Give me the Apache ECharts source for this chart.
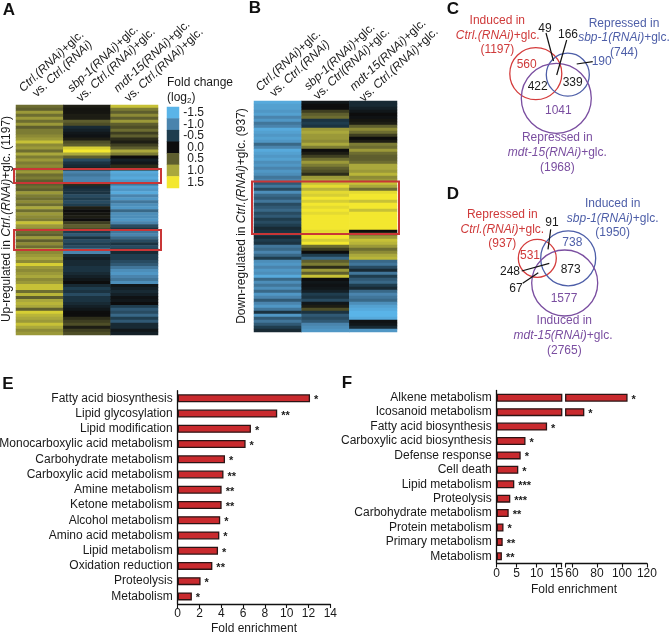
<!DOCTYPE html>
<html><head><meta charset="utf-8">
<style>html,body{margin:0;padding:0;background:#fff}#c{width:670px;height:633px}</style>
<script src="https://cdn.jsdelivr.net/npm/echarts@6/dist/echarts.min.js"></script>
</head><body><div id="c"></div>
<script>
// ---------- heatmap data (log2 fold change, read row by row from top) ----------
const heatColumns = ['c1','c2','c3'];
const heatA1 = [.6,.5,.9,.6,.9,.6,.9,.5,.7,.7, .8,.9,1.2,.8,.9,.6,1.0,.7,.9,.7, .8,.7,.9,.6,.7,.5,.5,.6,.5,.9, .7,.6,.8,.6,1.0,.6,.9,.8,.7,1.2, .9,.8,.6,.5,.9,.5,.8,.6,1.0,.8, .9,1.0,.8,1.3,.9,.8,.9,1.0,.8,.9, 1.2,1.2,.6,1.1,.5,1.0,1.1,1.0,.5,1.3, 1.1,1.0,.9,1.2,1.0,.8,.9];
const heatA2 = [.1,.05,.05,.1,.1,.5,.4,-.3,-.2,-.1, -.05,.1,.4,.5,1.3,1.5,1.0,.5,-.6,-.4, -.3,.1,-1.0,-.9,-1.0,-1.0,.2,-.3,-.4,-.4, -.6,-.5,-.6,-.5,.1,.0,.05,.1,.0,.3, .5,.4,-.5,-.7,-.4,-.6,-.5,-.6,-.8,-1.0, -.3,-.2,-.3,-.3,-.4,-.4,-.3,-.2,-.1,0, -.3,-.5,-.4,-.6,-.4,-.4,-.3,-.2,-.1,0, .0,.2,.3,.4,.1,.3,.4];
const heatA3 = [1.2,.7,.5,.8,.5,.9,.5,.4,.6,.3, .5,.2,.1,.3,.5,1.0,.7,.0,-.2,-.1, .2,.2,-1.4,-1.3,-1.4,-1.2,-.9,-1.3,-1.2,-1.4, -1.0,-1.2,-.9,-1.1,-1.2,-.8,-1.1,-1.1,-1.2,-1.0, -.6,-.4,-.9,-1.0,-.8,-.6,-.4,-.6,-.4,-.3, -.5,-.5,-.6,-.7,-.9,-1.1,-1.2,-1.0,-.9,-1.1, -.1,-.2,-.3,-.2,-.05,-.1,0,-.5,-.7,-.6, -.8,-.5,-.7,-.3,-.3,-.1,-.2];
const heatB1 = [-1.4,-1.3,-1.3,-1.2,-1.3,-1.0,-1.2,-.9,-1.0,-1.4, -1.3,-1.2,-1.3,-1.2,-.8,-1.0,-1.4,-1.3,-1.2,-1.3, -1.1,-1.2,-1.0,-1.2,-1.1,-.9,-1.0,-.7,-.9,-.6, -1.1,-.8,-.7,-.9,-.6,-.7,-.8,-.6,-.7,-.5, -.6,-.5,-.3,-.4,-.5,-.3,-.5,-.4,-.9,-.8, -1.0,-.8,-.5,-1.1,-1.2,-1.0,-1.2,-1.1,-1.4,-.8, -1.1,-.9,-1.1,-.8,-1.2,-1.0,-.7,-1.0,-1.2,-.9, -.4,-1.2,-.7,-.9,-.7,-.5,-.3];
const heatB2 = [-.1,0,0,.3,.5,.6,-.4,-.5,-.4,.9, 1.0,.9,.9,.8,1.0,.7,0,.1,.3,.6, .9,.7,.5,.4,.2,.9,1.0,1.2,1.4,1.1, 1.4,1.3,1.5,1.3,1.5,1.4,1.5,1.4,1.5,1.5, 1.5,1.5,1.5,1.4,1.5,1.5,1.3,1.5,.6,.3, .0,-.5,-.8,.5,.7,.2,.9,.5,1.2,0, -.1,-.05,-.1,-.2,-.5,-.4,-.6,-.1,.1,.4, -.4,-.7,-.6,-.7,-1.0,-1.1,-1.2];
const heatB3 = [-.3,-.3,-.2,-.1,0,-.05,.05,.1,.5,.8, .6,.3,0,.1,.7,.6,.9,.6,.5,.5, .6,1.0,1.0,.9,1.1,.8,.9,1.2,1.0,.6, 1.4,1.5,1.5,1.2,1.5,1.5,1.2,1.5,1.5,1.5, 1.5,1.5,1.5,0,.7,.9,1.2,1.1,.9,.6, .8,1.0,1.1,-.8,-.9,-.6,-.3,-.9,-.5,-.7, -.8,-.5,-.3,-.8,-1.0,-.9,-.8,-1.1,-1.3,-1.4, -1.5,-1.5,-1.4,-.05,-.1,-.3,-1.2];
const scaleLabels = ['-1.5','-1.0','-0.5','0.0','0.5','1.0','1.5'];
const scaleColors = ['#5ab4e8','#4a84ad','#1f3d4e','#0d0d0d','#5e5e2e','#aaa83c','#f3e72f'];

// ---------- bar data ----------
const catsE = ['Fatty acid biosynthesis','Lipid glycosylation','Lipid modification','Monocarboxylic acid metabolism','Carbohydrate metabolism','Carboxylic acid metabolism','Amine metabolism','Ketone metabolism','Alcohol metabolism','Amino acid metabolism','Lipid metabolism','Oxidation reduction','Proteolysis','Metabolism'];
const valsE = [12.14,9.13,6.72,6.23,4.34,4.2,4.03,4.03,3.9,3.82,3.7,3.18,2.1,1.3];
const starsE = ['*','**','*','*','*','**','**','**','*','*','*','**','*','*'];
const catsF = ['Alkene metabolism','Icosanoid metabolism','Fatty acid biosynthesis','Carboxylic acid biosynthesis','Defense response','Cell death','Lipid metabolism','Proteolysis','Carbohydrate metabolism','Protein metabolism','Primary metabolism','Metabolism'];
const valsF = [104.5,69.9,12.6,7.2,6,5.4,4.4,3.4,3,1.7,1.5,1.3];
const starsF = ['*','*','*','*','*','*','***','***','**','*','**','**'];

// ---------- Venn data: [centre x, centre y, diameter] ----------
const vennCRed = [535.8,73.7,52], vennCBlue = [567.8,74.7,43], vennCPurple = [556.3,98.3,70];
const vennDRed = [537.3,258.3,38], vennDBlue = [568.2,258.3,55], vennDPurple = [564.7,283,66];
const leaderLines = [
  [[546,33],[553.5,61]], [[566.7,40],[556.7,75]], [[576.7,64],[592.7,61.7]],
  [[550.7,229.3],[548,249.3]], [[521.7,271],[549.3,263.3]], [[522.7,283.3],[538.3,272.7]]
];

const FONT = '"Liberation Sans", Arial, sans-serif';
const RED='#cf3a3a', BLUE='#4d5ea8', PURPLE='#7a4ea0', BLACK='#1a1a1a';
const rows = heatA1.map((_,i)=>String(i));
const toCells = cols => cols.flatMap((col,c)=>col.map((v,r)=>[c,r,v]));

function txt(s,x,y,o={}){
  const fs=o.fs||12;
  return {type:'text',x,y,rotation:(o.rot||0)*Math.PI/180,z:50,silent:true,style:{
    text:s,fontFamily:FONT,fontSize:fs,fontWeight:o.bold?'bold':'normal',fill:o.color||BLACK,
    align:o.align||'center',verticalAlign:'middle',
    rich:{i:{fontStyle:'italic',fontFamily:FONT,fontSize:fs,fill:o.color||BLACK},
          sub:{fontFamily:FONT,fontSize:8,fill:o.color||BLACK,padding:[6,0,0,0]}}
  }};
}
function box(x,y,w,h){return {type:'rect',z:40,silent:true,shape:{x,y,width:w,height:h},style:{fill:'none',stroke:'#c93636',lineWidth:2}};}

const graphics=[
  // panel letters
  txt('A',9,10,{fs:17,bold:true,color:'#111'}),txt('B',255,8,{fs:17,bold:true,color:'#111'}),
  txt('C',453,9,{fs:17,bold:true,color:'#111'}),txt('D',453,194,{fs:17,bold:true,color:'#111'}),
  txt('E',8,384,{fs:17,bold:true,color:'#111'}),txt('F',347,383,{fs:17,bold:true,color:'#111'}),
  // heatmap column headers
  txt('{i|Ctrl.(RNAi)}+glc.',51.5,61.5,{rot:43}),txt('vs. {i|Ctrl.(RNAi)}',62.5,69,{rot:43}),
  txt('{i|sbp-1(RNAi)}+glc.',103,58.7,{rot:43}),txt('vs. {i|Ctrl.(RNAi)}+glc.',116,65,{rot:43}),
  txt('{i|mdt-15(RNAi)}+glc.',152,56.5,{rot:43}),txt('vs. {i|Ctrl.(RNAi)}+glc.',164,65,{rot:43}),
  txt('{i|Ctrl.(RNAi)}+glc.',288.3,60.8,{rot:43}),txt('vs. {i|Ctrl.(RNAi)}',300,68.7,{rot:43}),
  txt('{i|sbp-1(RNAi)}+glc.',339.7,56.7,{rot:43}),txt('vs. {i|Ctrl(RNAi)}+glc.',351.7,63.8,{rot:43}),
  txt('{i|mdt-15(RNAi)}+glc.',388,55,{rot:43}),txt('vs. {i|Ctrl.(RNAi)}+glc.',399,65,{rot:43}),
  // side titles
  txt('Up-regulated in {i|Ctrl.(RNAi)}+glc. (1197)',7,219,{rot:90}),
  txt('Down-regulated in {i|Ctrl.(RNAi)}+glc. (937)',242,216,{rot:90}),
  // colour scale title
  txt('Fold change',167,83,{align:'left'}),txt('(log{sub|2})',167,98,{align:'left'}),
  // red boxes
  box(14,169,147,14),box(14,230,147,20),box(252,181.5,147,52.5),
  // Venn C
  txt('Induced in',497.3,21,{color:RED}),txt('{i|Ctrl.(RNAi)}+glc.',497.7,36,{color:RED}),txt('(1197)',497.3,50,{color:RED}),
  txt('Repressed in',624,24,{color:BLUE}),txt('{i|sbp-1(RNAi)}+glc.',624,38,{color:BLUE}),txt('(744)',624,53,{color:BLUE}),
  txt('49',545,29),txt('166',568,35),txt('190',601.7,62,{color:BLUE}),
  txt('560',526.7,65,{color:RED}),txt('422',537.7,86.7),txt('339',572.7,82.7),txt('1041',558.3,111,{color:PURPLE}),
  txt('Repressed in',557.3,138,{color:PURPLE}),txt('{i|mdt-15(RNAi)}+glc.',557.3,153,{color:PURPLE}),txt('(1968)',557.3,168,{color:PURPLE}),
  // Venn D
  txt('Repressed in',502.3,215,{color:RED}),txt('{i|Ctrl.(RNAi)}+glc.',502.3,230,{color:RED}),txt('(937)',502.3,244,{color:RED}),
  txt('Induced in',612.7,204,{color:BLUE}),txt('{i|sbp-1(RNAi)}+glc.',612.7,218.7,{color:BLUE}),txt('(1950)',612.7,233,{color:BLUE}),
  txt('91',552,222.3),txt('738',572.3,242.7,{color:BLUE}),txt('531',530,256,{color:RED}),txt('873',570.7,270),
  txt('248',510,271.7),txt('67',516,289),txt('1577',564,298.3,{color:PURPLE}),
  txt('Induced in',564.3,321,{color:PURPLE}),txt('{i|mdt-15(RNAi)}+glc.',563,335.7,{color:PURPLE}),txt('(2765)',564.3,350.3,{color:PURPLE}),
  // F axis title
  txt('Fold enrichment',574,590)
];

const hiddenCat=(gridIndex,data,extra={})=>Object.assign({type:'category',gridIndex,data,show:false,inverse:false},extra);
const barLabelStyle={show:true,position:'right',distance:4,fontFamily:FONT,fontSize:11,fontWeight:'bold',color:BLACK,offset:[0,2]};
const barStyle={color:'#c92a2e',borderColor:'#2b1414',borderWidth:1.3};
const axisLine={show:true,lineStyle:{color:'#111',width:1.3}};
const catLabel={fontFamily:FONT,fontSize:12,color:BLACK,margin:5,interval:0};
const numLabel={fontFamily:FONT,fontSize:12,color:BLACK,margin:4};
const tick={show:true,length:4,lineStyle:{color:'#111',width:1.1}};
const vennCircle=(name,c,color)=>({type:'scatter',name,xAxisIndex:6,yAxisIndex:6,data:[c],
  symbolSize:v=>v[2],silent:true,z:5,itemStyle:{color:'rgba(0,0,0,0)',borderColor:color,borderWidth:1.3,opacity:1}});

const option={
  backgroundColor:'#fff',animation:false,
  grid:[
    {left:16,top:105,width:142,height:230,outerBoundsMode:'none'},
    {left:254,top:101,width:143,height:231,outerBoundsMode:'none'},
    {left:167,top:107,width:12,height:81,outerBoundsMode:'none'},
    {left:177.7,top:390.7,width:152.6,height:213.3,outerBoundsMode:'none'},
    {left:496.7,top:390.5,width:65,height:173,outerBoundsMode:'none'},
    {left:565.7,top:390.5,width:81.25,height:173,outerBoundsMode:'none'},
    {left:0,top:0,width:670,height:633,outerBoundsMode:'none'}
  ],
  xAxis:[
    hiddenCat(0,heatColumns),hiddenCat(1,heatColumns),hiddenCat(2,['scale']),
    {type:'value',gridIndex:3,min:0,max:14,interval:2,splitLine:{show:false},axisLine,axisTick:tick,axisLabel:numLabel,
     name:'Fold enrichment',nameLocation:'middle',nameGap:19,nameTextStyle:{fontFamily:FONT,fontSize:12,color:BLACK}},
    {type:'value',gridIndex:4,min:0,max:16.25,splitLine:{show:false},axisLine,
     axisTick:Object.assign({},tick,{customValues:[0,5,10,15,16.25]}),
     axisLabel:Object.assign({},numLabel,{customValues:[0,5,10,15]})},
    {type:'value',gridIndex:5,min:55,max:120,splitLine:{show:false},axisLine,
     axisTick:Object.assign({},tick,{customValues:[55,60,80,100,120]}),
     axisLabel:Object.assign({},numLabel,{customValues:[60,80,100,120]})},
    {type:'value',gridIndex:6,min:0,max:670,show:false}
  ],
  yAxis:[
    hiddenCat(0,rows,{inverse:true}),hiddenCat(1,rows,{inverse:true}),
    {type:'category',gridIndex:2,data:scaleLabels,inverse:true,position:'right',axisLine:{show:false},axisTick:{show:false},
     axisLabel:{fontFamily:FONT,fontSize:12,color:BLACK,align:'right',margin:25,interval:0}},
    {type:'category',gridIndex:3,data:catsE,inverse:true,axisLine,axisTick:{show:false},axisLabel:catLabel},
    {type:'category',gridIndex:4,data:catsF,inverse:true,axisLine,axisTick:{show:false},axisLabel:catLabel},
    hiddenCat(5,catsF,{inverse:true}),
    {type:'value',gridIndex:6,min:0,max:633,inverse:true,show:false}
  ],
  visualMap:{type:'continuous',show:false,seriesIndex:[0,1,2],min:-1.5,max:1.5,dimension:2,inRange:{color:scaleColors}},
  graphic:graphics,
  series:[
    {type:'heatmap',xAxisIndex:0,yAxisIndex:0,data:toCells([heatA1,heatA2,heatA3]),silent:true},
    {type:'heatmap',xAxisIndex:1,yAxisIndex:1,data:toCells([heatB1,heatB2,heatB3]),silent:true},
    {type:'heatmap',xAxisIndex:2,yAxisIndex:2,data:scaleLabels.map((l,i)=>[0,i,Number(l)]),silent:true},
    {type:'bar',xAxisIndex:3,yAxisIndex:3,data:valsE,barWidth:8,itemStyle:barStyle,
     label:Object.assign({},barLabelStyle,{formatter:p=>starsE[p.dataIndex]})},
    {type:'bar',xAxisIndex:4,yAxisIndex:4,data:valsF,barWidth:8,clip:true,itemStyle:barStyle,
     label:Object.assign({},barLabelStyle,{formatter:p=>valsF[p.dataIndex]>55?'':starsF[p.dataIndex]})},
    {type:'bar',xAxisIndex:5,yAxisIndex:5,data:valsF.map(v=>v>55?v:null),barWidth:8,itemStyle:barStyle,
     label:Object.assign({},barLabelStyle,{formatter:p=>starsF[p.dataIndex]})},
    vennCircle('C induced',vennCRed,'#d43c3c'),vennCircle('C sbp-1',vennCBlue,'#4d5ea8'),vennCircle('C mdt-15',vennCPurple,'#7a4ea0'),
    vennCircle('D repressed',vennDRed,'#d43c3c'),vennCircle('D sbp-1',vennDBlue,'#4d5ea8'),vennCircle('D mdt-15',vennDPurple,'#7a4ea0'),
    ...leaderLines.map(l=>({type:'line',xAxisIndex:6,yAxisIndex:6,data:l,symbol:'none',silent:true,z:6,lineStyle:{color:'#111',width:1.2}}))
  ]
};
echarts.init(document.getElementById('c'),null,{renderer:'canvas'}).setOption(option);
</script></body></html>
